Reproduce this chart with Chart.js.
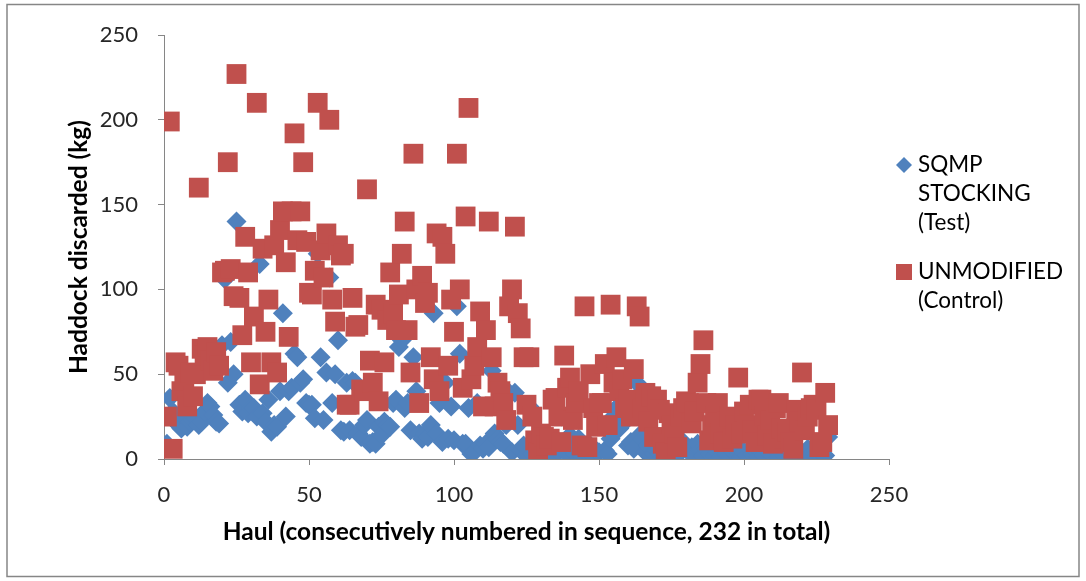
<!DOCTYPE html>
<html>
<head>
<meta charset="utf-8">
<title>Haddock discarded per haul</title>
<script src="https://cdn.jsdelivr.net/npm/chart.js@4.4.1/dist/chart.umd.min.js"></script>
<style>
  html, body { margin: 0; padding: 0; background: #fff; }
</style>
</head>
<body>
<canvas id="haul-chart" width="1086" height="581"></canvas>
<script>
// Series names, wrapped the way the legend shows them
const testName = ['SQMP', 'STOCKING', '(Test)'];
const controlName = ['UNMODIFIED', '(Control)'];

// Tick values for both axes
const xTicks = [0, 50, 100, 150, 200, 250];
const yTicks = [0, 50, 100, 150, 200, 250];

// Haddock discarded (kg) per haul, hauls 1..229 in order
const testKg = [
  9, 36, 28, 22, 20, 18, 25, 19, 22, 23,
  24, 20, 22, 28, 33, 31, 26, 22, 21, 67,
  106, 45, 69, 50, 140, 32, 28, 35, 27, 30,
  30, 25, 115, 27, 22, 35, 16, 20, 19, 40,
  86, 25, 40, 42, 62, 60, 45, 47, 33, 32,
  32, 24, 121, 60, 23, 51, 107, 33, 50, 70,
  17, 16, 45, 17, 46, 45, 15, 13, 20, 23,
  9, 10, 9, 19, 14, 22, 20, 19, 33, 35,
  66, 70, 30, 33, 17, 60, 40, 15, 12, 15,
  13, 20, 86, 15, 33, 10, 45, 12, 31, 11,
  90, 62, 9, 9, 30, 3, 4, 33, 8, 6,
  9, 7, 52, 15, 12, 10, 9, 20, 39, 4,
  39, 20, 5, 8, 2, 31, 3, 5, 2, 8,
  2, 4, 1, 10, 3, 4, 25, 6, 3, 14,
  5, 3, 12, 2, 7, 3, 8, 2, 5, 4,
  20, 5, 3, 12, 25, 30, 18, 33, 22, 8,
  10, 6, 45, 14, 12, 4, 8, 2, 3, 5,
  3, 1, 2, 5, 8, 4, 2, 5, 10, 6,
  4, 7, 3, 9, 5, 2, 6, 3, 8, 2,
  4, 1, 6, 3, 2, 5, 8, 3, 1, 4,
  2, 6, 3, 5, 1, 4, 2, 7, 3, 2,
  5, 1, 4, 2, 6, 3, 1, 5, 2, 4,
  3, 6, 2, 4, 1, 5, 3, 2, 13
];

const controlKg = [
  25, 199, 6, 57, 55, 40, 46, 31, 51, 37,
  50, 160, 65, 61, 66, 58, 52, 63, 55, 110,
  111, 175, 112, 96, 227, 95, 73, 131, 110, 57,
  84, 210, 44, 124, 75, 94, 57, 126, 51, 135,
  146, 116, 72, 146, 192, 129, 146, 175, 128, 98,
  97, 111, 210, 123, 107, 133, 200, 94, 81, 126,
  120, 121, 32, 32, 95, 78, 79, 41, 40, 159,
  58, 45, 91, 34, 88, 57, 82, 110, 86, 76,
  97, 121, 140, 76, 51, 180, 100, 33, 108, 92,
  98, 60, 47, 133, 40, 131, 121, 55, 94, 75,
  180, 100, 42, 143, 207, 47, 55, 66, 87, 31,
  76, 140, 60, 31, 45, 40, 33, 23, 90, 100,
  137, 86, 77, 60, 32, 60, 25, 11, 4, 15,
  13, 8, 12, 35, 36, 25, 10, 61, 42, 48,
  23, 33, 40, 8, 90, 7, 50, 30, 19, 33,
  33, 56, 20, 91, 45, 60, 40, 47, 30, 35,
  25, 53, 90, 84, 30, 39, 22, 37, 13, 35,
  29, 9, 4, 27, 20, 15, 7, 25, 30, 34,
  33, 21, 28, 45, 56, 70, 33, 11, 20, 25,
  33, 15, 10, 22, 25, 12, 20, 48, 15, 28,
  20, 32, 17, 10, 35, 35, 25, 14, 23, 9,
  30, 33, 18, 12, 16, 10, 6, 29, 22, 51,
  17, 25, 30, 32, 29, 7, 10, 39, 20
];

const BLUE = '#4F81BD';
const RED = '#C0504D';
const AXIS_GREY = '#868686';
const FONT = 'Lato, "Open Sans", sans-serif';

// haul number is the position in the list (1-based)
function toPoints(values) {
  return values.map((v, i) => ({ x: i + 1, y: v }));
}

// White background and thin grey frame round the whole chart
const chartFrame = {
  id: 'chartFrame',
  beforeDraw(chart) {
    const c = chart.ctx;
    c.save();
    c.fillStyle = '#ffffff';
    c.fillRect(0, 0, chart.width, chart.height);
    c.strokeStyle = AXIS_GREY;
    c.lineWidth = 1.5;
    c.strokeRect(7, 4.5, chart.width - 14, chart.height - 9);
    c.restore();
  }
};

// Legend on the right with names broken over several lines
const wrappedLegend = {
  id: 'wrappedLegend',
  afterDraw(chart) {
    const c = chart.ctx;
    const area = chart.chartArea;
    const symX = area.right + 15;
    const textX = area.right + 29;
    const lineH = 29;
    let y = area.top + 130;

    c.save();
    c.font = '22.5px ' + FONT;
    c.textAlign = 'left';
    c.textBaseline = 'middle';

    // diamond for the test gear
    c.fillStyle = BLUE;
    c.beginPath();
    c.moveTo(symX - 8, y);
    c.lineTo(symX, y - 8);
    c.lineTo(symX + 8, y);
    c.lineTo(symX, y + 8);
    c.closePath();
    c.fill();
    c.fillStyle = '#000000';
    testName.forEach((line, i) => c.fillText(line, textX, y + i * lineH));

    y += testName.length * lineH + 20;

    // square for the control gear
    c.fillStyle = RED;
    c.fillRect(symX - 8, y - 8, 16, 16);
    c.fillStyle = '#000000';
    controlName.forEach((line, i) => c.fillText(line, textX, y + i * lineH));
    c.restore();
  }
};

const ctx = document.getElementById('haul-chart').getContext('2d');
const haulChart = new Chart(ctx, {
  type: 'scatter',
  data: {
    datasets: [{
      label: testName.join(' '),
      data: toPoints(testKg),
      pointStyle: 'rectRot',
      pointRadius: 10,
      backgroundColor: BLUE,
      borderColor: BLUE,
      borderWidth: 0,
      order: 1
    }, {
      label: controlName.join(' '),
      data: toPoints(controlKg),
      pointStyle: 'rect',
      pointRadius: 14,
      backgroundColor: RED,
      borderColor: RED,
      borderWidth: 0,
      order: 0
    }]
  },
  options: {
    responsive: false,
    animation: false,
    events: [],
    layout: {
      padding: { left: 52, right: 197, top: 35, bottom: 34 }
    },
    plugins: {
      legend: { display: false },
      tooltip: { enabled: false }
    },
    scales: {
      x: {
        type: 'linear',
        min: 0,
        max: 250,
        afterBuildTicks: scale => { scale.ticks = xTicks.map(v => ({ value: v })); },
        afterFit: scale => { scale.height = 88; },
        ticks: {
          padding: 17,
          color: '#262626',
          font: { family: FONT, size: 22 }
        },
        grid: {
          display: true,
          drawOnChartArea: false,
          drawTicks: true,
          tickLength: 6,
          color: AXIS_GREY
        },
        border: { display: true, color: AXIS_GREY, width: 1 },
        title: {
          display: true,
          text: 'Haul (consecutively numbered in sequence, 232 in total)',
          color: '#000000',
          padding: 0,
          font: { family: FONT, size: 24.5, weight: 'bold' }
        }
      },
      y: {
        min: 0,
        max: 250,
        afterBuildTicks: scale => { scale.ticks = yTicks.map(v => ({ value: v })); },
        afterFit: scale => { scale.width = 164 - 52; },
        ticks: {
          padding: 20,
          color: '#262626',
          font: { family: FONT, size: 22 }
        },
        grid: {
          display: true,
          drawOnChartArea: false,
          drawTicks: true,
          tickLength: 6,
          color: AXIS_GREY
        },
        border: { display: true, color: AXIS_GREY, width: 1 },
        title: {
          display: true,
          text: 'Haddock discarded (kg)',
          color: '#000000',
          padding: 12,
          font: { family: FONT, size: 24.5, weight: 'bold' }
        }
      }
    }
  },
  plugins: [chartFrame, wrappedLegend]
});
</script>
</body>
</html>
